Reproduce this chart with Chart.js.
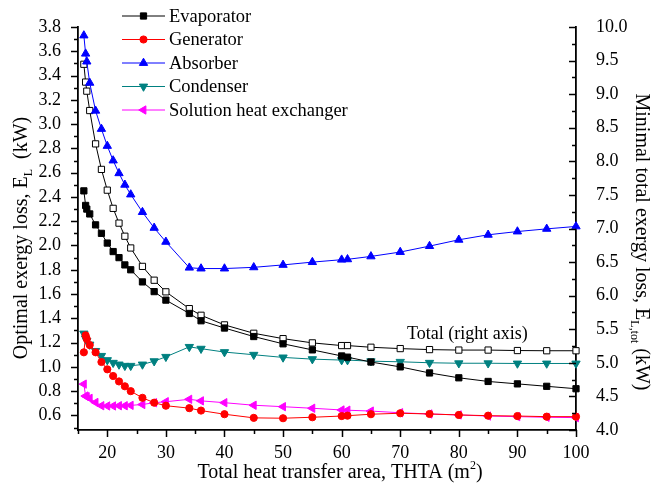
<!DOCTYPE html>
<html lang="en">
<head>
  <meta charset="UTF-8">
  <title>Exergy loss vs total heat transfer area</title>
  <script src="https://cdn.jsdelivr.net/npm/chart.js"></script>
  <style>
    html, body { margin: 0; padding: 0; background: #fff; }
    #wrap { width: 656px; height: 490px; }
  </style>
</head>
<body>
  <div id="wrap"><canvas id="exergyChart" width="656" height="490"></canvas></div>

  <script>
    // total heat transfer area, m2
    const thta = [16, 16.3, 16.5, 17, 18, 19, 20, 21, 22, 23, 24, 26, 28, 30, 34, 36, 40, 45, 50, 55, 60, 61, 65, 70, 75, 80, 85, 90, 95, 100];

    // component exergy losses, kW (left axis)
    const evaporator = [2.45, 2.33, 2.30, 2.26, 2.17, 2.10, 2.02, 1.95, 1.90, 1.84, 1.80, 1.70, 1.62, 1.55, 1.44, 1.38, 1.32, 1.25, 1.19, 1.14, 1.09, 1.08, 1.04, 1.00, 0.95, 0.91, 0.88, 0.86, 0.84, 0.82];
    const generator = [1.12, 1.26, 1.23, 1.18, 1.12, 1.04, 0.98, 0.925, 0.88, 0.84, 0.80, 0.745, 0.705, 0.68, 0.66, 0.64, 0.61, 0.58, 0.577, 0.585, 0.595, 0.598, 0.61, 0.618, 0.612, 0.604, 0.598, 0.595, 0.59, 0.59];
    const absorber = [3.73, 3.58, 3.515, 3.34, 3.11, 2.96, 2.82, 2.70, 2.595, 2.50, 2.42, 2.275, 2.145, 2.03, 1.817, 1.81, 1.81, 1.82, 1.84, 1.863, 1.883, 1.886, 1.91, 1.946, 1.995, 2.047, 2.088, 2.115, 2.137, 2.157];
    const condenser = [1.275, 1.234, 1.214, 1.184, 1.132, 1.091, 1.056, 1.034, 1.02, 1.009, 1.009, 1.02, 1.047, 1.083, 1.165, 1.15, 1.122, 1.10, 1.078, 1.064, 1.056, 1.056, 1.047, 1.042, 1.034, 1.03, 1.03, 1.028, 1.028, 1.028];
    const solutionHx = [0.858, 0.76, 0.754, 0.741, 0.707, 0.68, 0.678, 0.678, 0.68, 0.68, 0.683, 0.69, 0.705, 0.713, 0.733, 0.72, 0.705, 0.684, 0.672, 0.659, 0.645, 0.643, 0.636, 0.622, 0.612, 0.604, 0.595, 0.59, 0.585, 0.582];

    // minimal total exergy loss, kW (right axis)
    const total = [9.445, 9.18, 9.045, 8.756, 8.26, 7.88, 7.571, 7.30, 7.08, 6.885, 6.71, 6.436, 6.23, 6.057, 5.807, 5.708, 5.565, 5.44, 5.36, 5.297, 5.257, 5.257, 5.232, 5.212, 5.197, 5.19, 5.19, 5.183, 5.18, 5.18];

    // tick labels
    const xTicks = [20, 30, 40, 50, 60, 70, 80, 90, 100];
    const leftTicks = [0.6, 0.8, 1.0, 1.2, 1.4, 1.6, 1.8, 2.0, 2.2, 2.4, 2.6, 2.8, 3.0, 3.2, 3.4, 3.6, 3.8];
    const rightTicks = [4.0, 4.5, 5.0, 5.5, 6.0, 6.5, 7.0, 7.5, 8.0, 8.5, 9.0, 9.5, 10.0];

    const FONT = 'Liberation Serif, Times New Roman, serif';
    Chart.defaults.font.family = FONT;
    Chart.defaults.font.size = 18;
    Chart.defaults.color = '#000';

    const pts = ys => thta.map((x, i) => ({ x: x, y: ys[i] }));

    function series(label, ys, color, style, extra) {
      return Object.assign({
        label: label,
        data: pts(ys),
        yAxisID: 'yL',
        borderColor: color,
        backgroundColor: color,
        pointBackgroundColor: color,
        pointBorderColor: color,
        borderWidth: 1,
        pointBorderWidth: 1,
        pointStyle: style,
        pointRadius: 4.3,
        tension: 0,
        clip: false
      }, extra || {});
    }

    const datasets = [
      series('Evaporator', evaporator, '#000000', 'rect', { pointRadius: 4.4 }),
      series('Generator', generator, '#ff0000', 'circle', { pointRadius: 3.6 }),
      series('Absorber', absorber, '#0000ff', 'triangle', { pointRadius: 4.8 }),
      series('Condenser', condenser, '#008080', 'triangle', { pointRadius: 4.8, pointRotation: 180 }),
      series('Solution heat exchanger', solutionHx, '#ff00ff', 'triangle', { pointRadius: 4.8, pointRotation: -90 }),
      series('Total', total, '#000000', 'rect', {
        yAxisID: 'yR', pointBackgroundColor: '#ffffff', pointRadius: 4.4
      })
    ];

    function fixTicks(list) {
      return function (scale) { scale.ticks = list.map(v => ({ value: v })); };
    }

    // draws several text runs (normal / sub / sup) centred on cx, cy
    function richText(ctx, parts, cx, cy, angle) {
      ctx.save();
      ctx.translate(cx, cy);
      ctx.rotate(angle);
      ctx.textBaseline = 'middle';
      ctx.textAlign = 'left';
      ctx.fillStyle = '#000';
      let w = 0;
      parts.forEach(p => { ctx.font = (p.size || 20) + 'px ' + FONT; p.w = ctx.measureText(p.t).width; w += p.w; });
      let x = -w / 2;
      parts.forEach(p => {
        ctx.font = (p.size || 20) + 'px ' + FONT;
        ctx.fillText(p.t, x, p.dy || 0);
        x += p.w;
      });
      ctx.restore();
    }

    const decorations = {
      id: 'decorations',
      afterDraw(chart) {
        const ctx = chart.ctx;
        const xs = chart.scales.x, yl = chart.scales.yL, yr = chart.scales.yR;
        const area = chart.chartArea;
        ctx.save();
        ctx.strokeStyle = '#000';
        ctx.lineWidth = 1.5;
        ctx.beginPath();
        // left axis ticks (outward)
        for (let k = 5; k <= 38; k++) {
          const v = k / 10;
          if (v < yl.min) continue;
          const y = Math.round(yl.getPixelForValue(v)) + 0.5;
          const len = k % 2 === 0 ? 7 : 4;
          ctx.moveTo(area.left, y); ctx.lineTo(area.left - len, y);
        }
        // right axis ticks (inward)
        for (let k = 16; k <= 40; k++) {
          const v = k / 4;
          const y = Math.round(yr.getPixelForValue(v)) + 0.5;
          const len = k % 2 === 0 ? 7 : 4;
          ctx.moveTo(area.right, y); ctx.lineTo(area.right - len, y);
        }
        // x axis ticks (outward)
        for (let v = 15; v <= 100; v += 5) {
          const x = Math.round(xs.getPixelForValue(v)) + 0.5;
          const len = (v % 10 === 0) ? 7 : 4;
          ctx.moveTo(x, area.bottom); ctx.lineTo(x, area.bottom + len);
        }
        ctx.stroke();
        ctx.restore();

        // axis titles
        richText(ctx, [
          { t: 'Optimal exergy loss, E' },
          { t: 'L', size: 12, dy: 7 },
          { t: '  (kW)' }
        ], 22, 238, -Math.PI / 2);
        richText(ctx, [
          { t: 'Minimal total exergy loss, E' },
          { t: 'L,tot', size: 12, dy: 7 },
          { t: ' (kW)' }
        ], 641, 242, Math.PI / 2);
        richText(ctx, [
          { t: 'Total heat transfer area, THTA (m' },
          { t: '2', size: 12, dy: -7 },
          { t: ')' }
        ], 340, 473, 0);

        // note for the total curve
        ctx.save();
        ctx.font = '18px ' + FONT;
        ctx.fillStyle = '#000';
        ctx.textBaseline = 'middle';
        ctx.fillText('Total (right axis)', 407, 334);
        ctx.restore();

        // legend: line sample with marker
        const rowY = [16, 39.5, 63, 86.5, 110];
        chart.data.datasets.slice(0, 5).forEach((ds, i) => {
          const y = rowY[i];
          ctx.save();
          ctx.strokeStyle = ds.borderColor;
          ctx.lineWidth = 1;
          ctx.beginPath();
          ctx.moveTo(122, y); ctx.lineTo(165, y);
          ctx.stroke();
          const o = chart.getDatasetMeta(i).data[0].options;
          ctx.strokeStyle = o.borderColor;
          ctx.fillStyle = o.backgroundColor;
          ctx.lineWidth = o.borderWidth;
          Chart.helpers.drawPoint(ctx, o, 143.5, y);
          ctx.font = '18.5px ' + FONT;
          ctx.fillStyle = '#000';
          ctx.textBaseline = 'middle';
          ctx.fillText(ds.label, 169, y + 1);
          ctx.restore();
        });
      }
    };

    new Chart(document.getElementById('exergyChart'), {
      type: 'line',
      data: { datasets: datasets },
      plugins: [decorations],
      options: {
        responsive: false,
        animation: false,
        devicePixelRatio: 1,
        layout: { padding: { top: 27, left: 0, right: 0, bottom: 0 } },
        plugins: { legend: { display: false }, tooltip: { enabled: false } },
        scales: {
          x: {
            type: 'linear',
            min: 15, max: 100,
            afterBuildTicks: fixTicks(xTicks),
            afterFit: s => { s.height = 60; },
            grid: { display: false },
            border: { display: true, color: '#000', width: 1.8 },
            ticks: { padding: 4, maxRotation: 0, callback: v => String(v) }
          },
          yL: {
            type: 'linear', position: 'left',
            min: 0.48, max: 3.8,
            afterBuildTicks: fixTicks(leftTicks),
            afterFit: s => { s.width = 78; },
            grid: { display: false },
            border: { display: true, color: '#000', width: 1.8 },
            ticks: { padding: 9, callback: v => v.toFixed(1) }
          },
          yR: {
            type: 'linear', position: 'right',
            min: 4.0, max: 10.0,
            afterBuildTicks: fixTicks(rightTicks),
            afterFit: s => { s.width = 80; },
            grid: { display: false },
            border: { display: true, color: '#000', width: 1.8 },
            ticks: { padding: 12, callback: v => v.toFixed(1) }
          }
        }
      }
    });
  </script>
</body>
</html>
